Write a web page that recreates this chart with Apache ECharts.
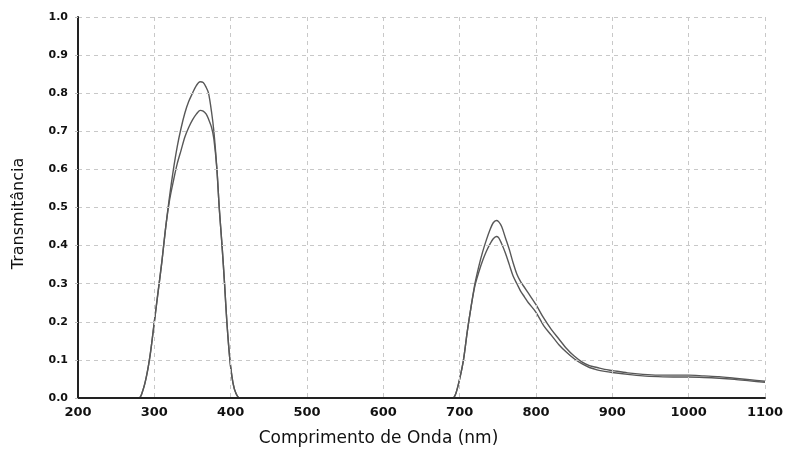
<!DOCTYPE html>
<html>
<head>
<meta charset="utf-8">
<script src="https://cdn.jsdelivr.net/npm/echarts@6/dist/echarts.min.js"></script>
<style>
  html, body { margin: 0; padding: 0; background: #fff; }
  #chart { width: 787px; height: 452px; }
</style>
</head>
<body>
<div id="chart"></div>
<script>
// wavelength (nm) / transmittance
const upperUv = [
  [270, 0], [280, 0], [285, 0.02], [290, 0.06], [295, 0.12], [300, 0.2], [305, 0.28],
  [310, 0.36], [315, 0.45], [320, 0.53], [325, 0.6], [330, 0.66], [335, 0.708],
  [340, 0.748], [345, 0.778], [350, 0.8], [355, 0.82], [360, 0.83], [364, 0.828],
  [368, 0.815], [371, 0.8], [375, 0.75], [378, 0.7], [382, 0.6], [385, 0.5],
  [388.7, 0.4], [392, 0.3], [395, 0.2], [399, 0.1], [403, 0.04], [407, 0.012],
  [412, 0], [415, 0]
]
const lowerUv = [
  [270, 0], [280, 0], [285, 0.02], [290, 0.06], [295, 0.12], [300, 0.2], [305, 0.28],
  [310, 0.36], [315, 0.45], [320, 0.52], [325, 0.57], [330, 0.615], [335, 0.65],
  [340, 0.685], [345, 0.71], [350, 0.73], [355, 0.745], [360, 0.755], [364, 0.753],
  [368, 0.745], [371, 0.732], [375, 0.71], [378, 0.68], [382, 0.6], [385, 0.5],
  [388.7, 0.4], [392, 0.3], [395, 0.2], [399, 0.1], [403, 0.04], [407, 0.012],
  [412, 0], [415, 0]
]
const upperIr = [
  [685, 0], [691, 0], [695, 0.012], [700, 0.05], [705, 0.1], [710, 0.175], [715, 0.24],
  [720, 0.3], [725, 0.345], [730, 0.383], [735, 0.415], [740, 0.443], [744, 0.46],
  [748, 0.466], [751, 0.463], [755, 0.45], [760, 0.42], [765, 0.39], [770, 0.355],
  [775, 0.325], [780, 0.305], [785, 0.29], [790, 0.275], [800, 0.245], [810, 0.21],
  [820, 0.18], [830, 0.155], [840, 0.13], [850, 0.11], [860, 0.095], [870, 0.085],
  [880, 0.08], [890, 0.075], [900, 0.072], [920, 0.066], [940, 0.062], [960, 0.06],
  [980, 0.06], [1000, 0.06], [1020, 0.058], [1040, 0.056], [1060, 0.052],
  [1080, 0.048], [1100, 0.044]
]
const lowerIr = [
  [685, 0], [691, 0], [695, 0.012], [700, 0.05], [705, 0.1], [710, 0.175], [715, 0.24],
  [720, 0.295], [725, 0.33], [730, 0.36], [735, 0.385], [740, 0.405], [744, 0.418],
  [748, 0.424], [751, 0.421], [755, 0.405], [760, 0.38], [765, 0.35], [770, 0.32],
  [775, 0.3], [780, 0.28], [785, 0.265], [790, 0.25], [800, 0.225], [810, 0.19],
  [820, 0.165], [830, 0.14], [840, 0.12], [850, 0.103], [860, 0.09], [870, 0.08],
  [880, 0.074], [890, 0.07], [900, 0.067], [920, 0.062], [940, 0.058], [960, 0.056],
  [980, 0.055], [1000, 0.055], [1020, 0.054], [1040, 0.052], [1060, 0.049],
  [1080, 0.045], [1100, 0.041]
]

const xTicks = [200, 300, 400, 500, 600, 700, 800, 900, 1000, 1100]
const yTicks = [0, 0.1, 0.2, 0.3, 0.4, 0.5, 0.6, 0.7, 0.8, 0.9, 1.0]

const chart = echarts.init(document.getElementById('chart'))

const lineStyle = { color: '#585858', width: 1.4 }

const makeSeries = (data) => ({
  type: 'line',
  data: data,
  smooth: 0.3,
  showSymbol: false,
  lineStyle: lineStyle,
  z: 2
})

const option = {
  animation: false,
  grid: { left: 78, right: 22, top: 17, bottom: 49 },
  xAxis: {
    type: 'value',
    min: xTicks[0],
    max: xTicks[xTicks.length - 1],
    interval: 100,
    z: 5,
    name: 'Comprimento de Onda (nm)',
    nameLocation: 'middle',
    nameGap: 32,
    nameTextStyle: {
      fontFamily: 'DejaVu Sans',
      fontSize: 17,
      color: '#111',
      padding: [0, 86, 0, 0]
    },
    axisLine: { lineStyle: { color: '#222', width: 2 } },
    axisTick: { show: false },
    axisLabel: {
      margin: 8,
      fontFamily: 'DejaVu Sans',
      fontWeight: 'bold',
      fontSize: 13,
      color: '#111',
      formatter: (v) => String(v)
    },
    splitLine: { lineStyle: { color: '#c8c8c8', type: [4, 4], width: 1 } }
  },
  yAxis: {
    type: 'value',
    min: yTicks[0],
    max: yTicks[yTicks.length - 1],
    interval: 0.1,
    z: 5,
    name: 'Transmitância',
    nameLocation: 'middle',
    nameGap: 51,
    nameTextStyle: {
      fontFamily: 'DejaVu Sans',
      fontSize: 16,
      color: '#111',
      padding: [0, 12, 0, 0]
    },
    axisLine: { show: true, lineStyle: { color: '#222', width: 2 } },
    axisTick: { show: true, length: 3, lineStyle: { color: '#bbb' } },
    axisLabel: {
      margin: 10,
      fontFamily: 'DejaVu Sans',
      fontWeight: 'bold',
      fontSize: 11,
      color: '#111',
      formatter: (v) => v.toFixed(1)
    },
    splitLine: { lineStyle: { color: '#c8c8c8', type: [4, 4], width: 1 } }
  },
  series: [
    makeSeries(upperUv),
    makeSeries(lowerUv),
    makeSeries(upperIr),
    makeSeries(lowerIr)
  ]
}

chart.setOption(option)
</script>
</body>
</html>
